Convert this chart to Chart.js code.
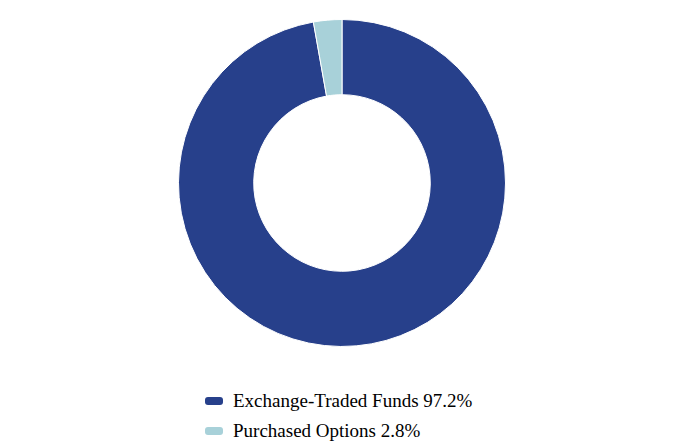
<!DOCTYPE html>
<html><head><meta charset="utf-8">
<script src="https://cdn.jsdelivr.net/npm/chart.js@4"></script>
<style>
body{margin:0;width:684px;height:444px;background:#fff;overflow:hidden}
#wrap{position:absolute;left:0;top:0;width:684px;height:366px}
#legend{position:absolute;left:205px;top:386px;font-family:"Liberation Serif",serif;font-size:19px;color:#000}
.item{display:flex;align-items:center;height:30px}
.sw{width:18px;height:8px;border-radius:3px;margin-right:10px}
</style></head><body>
<div id="wrap"><canvas id="c"></canvas></div>
<div id="legend"></div>
<script>
const categories = ["Exchange-Traded Funds", "Purchased Options"];
const values = [97.2, 2.8];
const colors = ["#27408B", "#A8D1D9"];
new Chart(document.getElementById('c'), {
  type: 'doughnut',
  data: { labels: categories, datasets: [{ data: values, backgroundColor: colors, borderColor: '#fff', borderWidth: 1 }] },
  options: {
    responsive: true, maintainAspectRatio: false, animation: false,
    cutout: '54%',
    layout: { padding: { top: 19, bottom: 19 } },
    plugins: { legend: { display: false }, tooltip: { enabled: false } }
  }
});
const lg = document.getElementById('legend');
categories.forEach((c, i) => {
  const d = document.createElement('div'); d.className = 'item';
  d.innerHTML = `<span class="sw" style="background:${colors[i]}"></span><span>${c} ${values[i].toFixed(1)}%</span>`;
  lg.appendChild(d);
});
</script></body></html>
